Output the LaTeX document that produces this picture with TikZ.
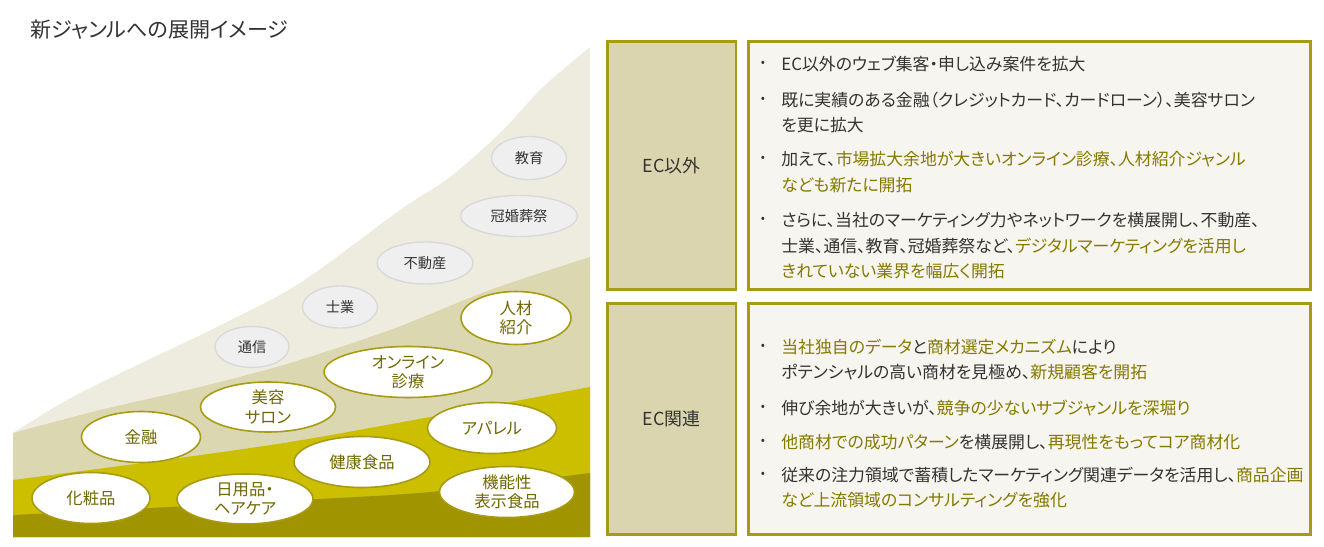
\documentclass[tikz,border=0pt]{standalone}
\usepackage{fontspec}
\setmainfont{Noto Sans CJK JP}[RawFeature=+palt]
\usetikzlibrary{shapes.geometric}

\definecolor{lightband}{HTML}{EEECDE}
\definecolor{tanband}{HTML}{DBD7B0}
\definecolor{yellowband}{HTML}{CCBF00}
\definecolor{darkband}{HTML}{A09400}
\definecolor{olivebd}{HTML}{A89B14}
\definecolor{hltext}{HTML}{857900}
\definecolor{bubtext}{HTML}{6F6700}
\definecolor{grayfill}{HTML}{EFEFEF}
\definecolor{graybd}{HTML}{D9D9D9}
\definecolor{textgray}{HTML}{333333}
\definecolor{boxfill}{HTML}{F6F5EF}
\definecolor{labelfill}{HTML}{DAD5AE}

\newcommand\hl[1]{\textcolor{hltext}{#1}}
\newcommand\btxt{\fontsize{9.6}{12}\selectfont}

\tikzset{
  gbub/.style={ellipse, draw=graybd, fill=grayfill, line width=0.8pt, inner sep=0pt,
    font=\fontsize{8.1}{9}\selectfont, text=textgray},
  wbub/.style={ellipse, draw=olivebd, fill=white, line width=0.9pt, inner sep=0pt,
    align=center, font=\fontsize{9.3}{11}\selectfont, text=bubtext},
  labelbox/.style={draw=olivebd, fill=labelfill, line width=1.7pt, minimum width=2.58cm,
    font=\fontsize{10.2}{12}\selectfont, text=textgray},
  textbox/.style={draw=olivebd, fill=boxfill, line width=1.7pt, minimum width=11.26cm},
  bline/.style={anchor=west, inner sep=0pt, font=\btxt, text=textgray},
  bdot/.style={inner sep=0pt, font=\fontsize{7}{8}\selectfont, text=textgray}
}

\begin{document}
\begin{tikzpicture}[x=0.02cm, y=-0.02cm]
\useasboundingbox (0,0) rectangle (1324,547);

% title
\node[anchor=west, inner sep=0pt, font=\fontsize{12}{14}\selectfont, text=textgray] (title) at (30,30) {新ジャンルへの展開イメージ};

% bands of the chart
\fill[lightband] (13,537) -- plot[smooth] coordinates {(13,433) (67,400) (133,367) (217,327) (300,283) (400,210) (450,177) (500,133) (543,87) (590,47)} -- (590,537) -- cycle;
\fill[tanband] (13,537) -- plot[smooth] coordinates {(13,433) (100,410) (200,387) (290,363) (390,330) (490,290) (590,257)} -- (590,537) -- cycle;
\fill[yellowband] (13,537) -- plot[smooth] coordinates {(13,480) (150,462) (290,442) (430,417) (590,387)} -- (590,537) -- cycle;
\fill[darkband] (13,537) -- plot[smooth] coordinates {(13,515) (150,508) (300,500) (430,492) (590,473)} -- (590,537) -- cycle;

% new genres
\node[gbub, minimum width=1.5cm, minimum height=0.86cm] (kyoiku) at (529,158) {教育};
\node[gbub, minimum width=2.34cm, minimum height=0.82cm] (konso) at (519,216) {冠婚葬祭};
\node[gbub, minimum width=1.92cm, minimum height=0.84cm] (fudosan) at (425,263) {不動産};
\node[gbub, minimum width=1.5cm, minimum height=0.84cm] (shigyo) at (340,307) {士業};
\node[gbub, minimum width=1.48cm, minimum height=0.82cm] (tsushin) at (252,347) {通信};

% existing genres
\node[wbub, minimum width=2.2cm, minimum height=1.06cm] (jinzai) at (516,318) {人材\\紹介};
\node[wbub, minimum width=3.36cm, minimum height=1.02cm] (online) at (408,372) {オンライン\\診療};
\node[wbub, minimum width=2.7cm, minimum height=1.0cm] (biyo) at (268,407) {美容\\サロン};
\node[wbub, minimum width=2.38cm, minimum height=1.02cm] (kinyu) at (141,437) {金融};
\node[wbub, minimum width=2.58cm, minimum height=1.02cm] (apparel) at (492,428) {アパレル};
\node[wbub, minimum width=2.72cm, minimum height=1.02cm] (kenko) at (362,462) {健康食品};
\node[wbub, minimum width=2.7cm, minimum height=1.02cm] (kinosei) at (507,492) {機能性\\表示食品};
\node[wbub, minimum width=2.36cm, minimum height=1.02cm] (kesho) at (91,498) {化粧品};
\node[wbub, minimum width=2.72cm, minimum height=1.0cm] (nichiyo) at (245,499) {日用品・\\ヘアケア};

% boxes
\node[labelbox, minimum height=4.98cm] (ecigai) at (671.5,165.5) {EC以外};
\node[textbox, minimum height=4.98cm] (igaibox) at (1029.5,165.5) {};
\node[labelbox, minimum height=4.64cm] (ecrel) at (671.5,419) {EC関連};
\node[textbox, minimum height=4.64cm] (relbox) at (1029.5,419) {};

% bullets
\foreach \y in {64,100,159,220,347,408,442,475}
  \node[bdot] (d\y) at (763,\y) {•};
\foreach \y/\t in {
  64/{EC以外のウェブ集客・申し込み案件を拡大},
  100/{既に実績のある金融（クレジットカード、カードローン）、美容サロン},
  125/{を更に拡大},
  159/{加えて、\hl{市場拡大余地が大きいオンライン診療、人材紹介ジャンル}},
  185/{\hl{なども新たに開拓}},
  220/{さらに、当社のマーケティング力やネットワークを横展開し、不動産、},
  246/{士業、通信、教育、冠婚葬祭など、\hl{デジタルマーケティングを活用し}},
  271/{\hl{きれていない業界を幅広く開拓}},
  347/{\hl{当社独自のデータ}と\hl{商材選定メカニズム}により},
  372/{ポテンシャルの高い商材を見極め、\hl{新規顧客を開拓}},
  408/{伸び余地が大きいが、\hl{競争の少ないサブジャンルを深堀り}},
  442/{\hl{他商材での成功パターン}を横展開し、\hl{再現性をもってコア商材化}},
  475/{従来の注力領域で蓄積したマーケティング関連データを活用し、\hl{商品企画}},
  500/{\hl{など上流領域のコンサルティングを強化}}}
  \node[bline] (l\y) at (781,\y) {\t};
\end{tikzpicture}
\end{document}
